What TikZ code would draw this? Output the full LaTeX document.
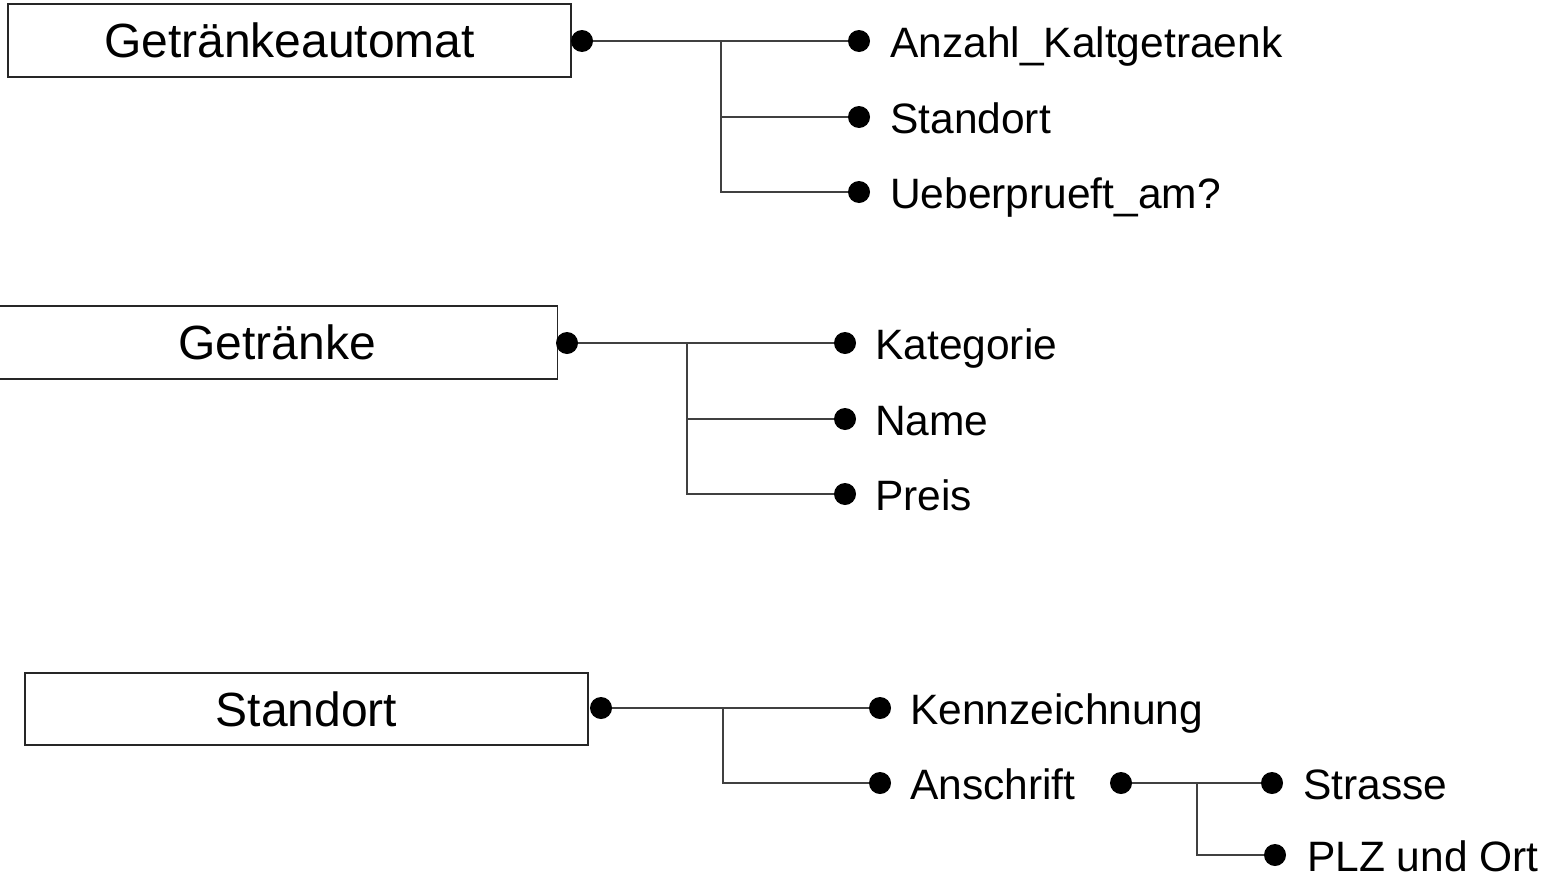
\documentclass[tikz,border=0pt]{standalone}
\usepackage{fontspec}
\setmainfont{Liberation Sans}
\begin{document}
\begin{tikzpicture}[x=1pt,y=-1pt,
  entity/.style={draw=black!85,line width=1.2pt,inner sep=0pt,font=\fontsize{48}{50}\selectfont},
  dot/.style={circle,fill=black,draw=none,minimum size=22pt,inner sep=0pt},
  attr/.style={anchor=base west,inner sep=0pt,font=\fontsize{42.5}{44}\selectfont},
  conn/.style={draw=black!75,line width=1.3pt}]
\useasboundingbox (0,0) rectangle (1547,878);

% ---------- Getraenkeautomat ----------
\node[entity,minimum width=563pt,minimum height=73pt] (b1) at (289.5,40.5) {Getränkeautomat};
\node[dot] (d1) at (582,41) {};
\coordinate (j1) at (721,41);
\node[dot] (e11) at (859,41) {};
\node[dot] (e12) at (859,117) {};
\node[dot] (e13) at (859,192) {};
\node[attr] (t11) at (890,57) {Anzahl\_Kaltgetraenk};
\node[attr] (t12) at (890,133) {Standort};
\node[attr] (t13) at (890,208) {Ueberprueft\_am?};
\draw[conn] (d1) -- (e11);
\draw[conn] (j1) |- (e12);
\draw[conn] (j1) |- (e13);

% ---------- Getraenke ----------
\node[entity,minimum width=561pt,minimum height=73pt] (b2) at (277,342.5) {Getränke};
\node[dot] (d2) at (567,343) {};
\coordinate (j2) at (687,343);
\node[dot] (e21) at (845,343) {};
\node[dot] (e22) at (845,419) {};
\node[dot] (e23) at (845,494) {};
\node[attr] (t21) at (875,359) {Kategorie};
\node[attr] (t22) at (875,435) {Name};
\node[attr] (t23) at (875,510) {Preis};
\draw[conn] (d2) -- (e21);
\draw[conn] (j2) |- (e22);
\draw[conn] (j2) |- (e23);

% ---------- Standort ----------
\node[entity,minimum width=563pt,minimum height=72pt] (b3) at (306.5,709) {Standort};
\node[dot] (d3) at (601,708) {};
\coordinate (j3) at (723,708);
\node[dot] (e31) at (880,708) {};
\node[dot] (e32) at (880,783) {};
\node[attr] (t31) at (910,724) {Kennzeichnung};
\node[attr] (t32) at (910,799) {Anschrift};
\draw[conn] (d3) -- (e31);
\draw[conn] (j3) |- (e32);

\node[dot] (d4) at (1121,783) {};
\coordinate (j4) at (1197,783);
\node[dot] (e41) at (1272,783) {};
\node[dot] (e42) at (1275,855) {};
\node[attr] (t41) at (1303,799) {Strasse};
\node[attr] (t42) at (1307,871) {PLZ und Ort};
\draw[conn] (d4) -- (e41);
\draw[conn] (j4) |- (e42);
\end{tikzpicture}
\end{document}
